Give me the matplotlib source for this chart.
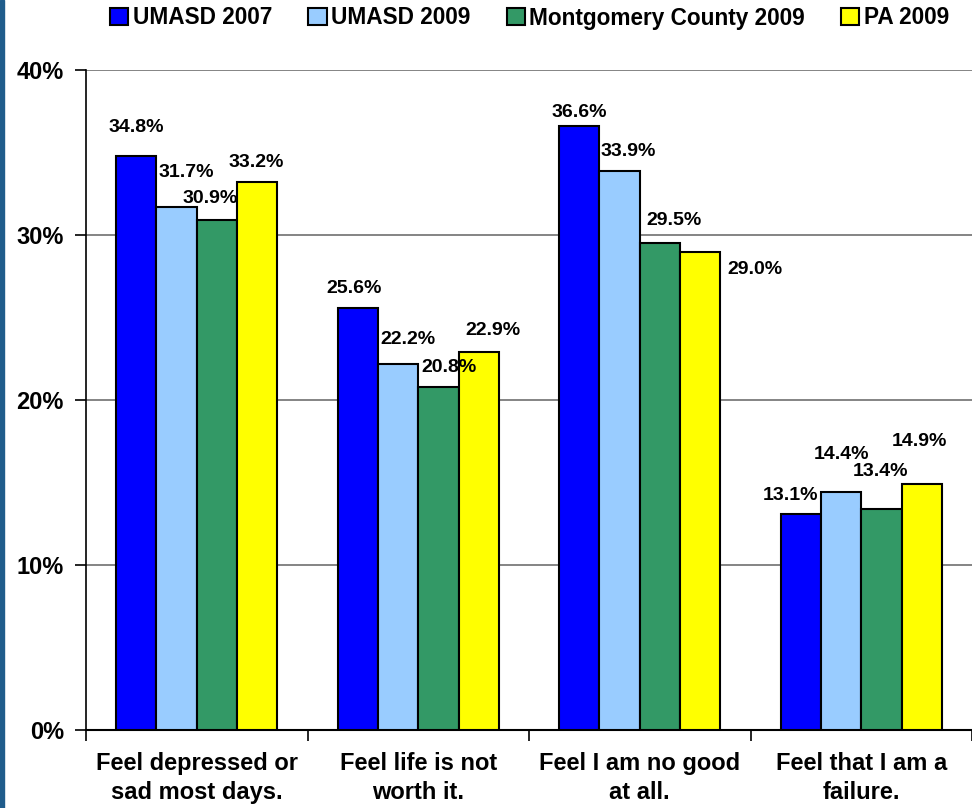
import matplotlib
matplotlib.use("Agg")
import matplotlib.pyplot as plt
from matplotlib.patches import Rectangle
import numpy as np

plt.rcParams['font.family'] = ['Liberation Sans', 'DejaVu Sans']
plt.rcParams['font.weight'] = 'bold'

categories = ['Feel depressed or\nsad most days.', 'Feel life is not\nworth it.',
              'Feel I am no good\nat all.', 'Feel that I am a\nfailure.']
series_names = ['UMASD 2007', 'UMASD 2009', 'Montgomery County 2009', 'PA 2009']
umasd_2007 = [34.8, 25.6, 36.6, 13.1]
umasd_2009 = [31.7, 22.2, 33.9, 14.4]
montco_2009 = [30.9, 20.8, 29.5, 13.4]
pa_2009 = [33.2, 22.9, 29.0, 14.9]
series = [umasd_2007, umasd_2009, montco_2009, pa_2009]
colors = ['#0000FF', '#99CCFF', '#339966', '#FFFF00']

# label nudges (pixels) so they sit like the original
label_offsets = [
    [(0, 28), (10, 34), (-7, 22), (-1, 20)],
    [(-4, 19), (10, 24), (11, 19), (14, 22)],
    [(0, 14), (9, 19), (14, 23), (55, -18)],
    [(-10, 18), (0, 38), (-1, 37), (-2, 43)],
]

fig = plt.figure(figsize=(9.72, 8.08), dpi=100)
ax = fig.add_axes([86 / 972, 78 / 808, 1 - 86 / 972, 660 / 808])

w = 0.182
x = np.arange(len(categories)) + 0.5
for j, vals in enumerate(series):
    bars = ax.bar(x + (j - 1.5) * w, vals, width=w, color=colors[j],
                  edgecolor='black', linewidth=1.5, label=series_names[j], zorder=3)
    for i, b in enumerate(bars):
        dx, dy = label_offsets[i][j]
        ax.annotate(f'{vals[i]:.1f}%', (b.get_x() + b.get_width() / 2, b.get_height()),
                    xytext=(dx, dy), textcoords='offset pixels', ha='center', va='center',
                    fontsize=14, fontweight='bold', zorder=4)

ax.set_xlim(0, 4)
ax.set_ylim(0, 40)
ax.set_yticks([0, 10, 20, 30, 40])
ax.set_yticklabels(['0%', '10%', '20%', '30%', '40%'], fontsize=17, fontweight='bold')
ax.yaxis.grid(True, color='#707070', linewidth=1.2, zorder=0)
ax.set_xticks([0, 1, 2, 3, 4])
ax.set_xticklabels([])
ax.set_xticks(x, minor=True)
ax.set_xticklabels(categories, minor=True, fontsize=17, fontweight='bold', linespacing=1.3)
ax.tick_params(axis='x', which='major', length=8, width=1.2, direction='out')
ax.tick_params(axis='x', which='minor', length=0, pad=16)
ax.tick_params(axis='y', length=8, width=1.2, direction='out', pad=8)
for s in ['top', 'right']:
    ax.spines[s].set_visible(False)
ax.spines['left'].set_linewidth(1.2)
ax.spines['bottom'].set_linewidth(1.5)

fig.legend(loc='center', bbox_to_anchor=(0.545, 1 - 18 / 808), ncol=4, frameon=False,
           handlelength=0.8, handleheight=0.8, handletextpad=0.2,
           columnspacing=1.6, prop={'weight': 'bold', 'size': 16.3})

# dark blue strip on the left edge
fig.patches.append(Rectangle((0, 0), 4 / 972, 1, transform=fig.transFigure,
                             color='#1F5C8B', zorder=5))

fig.savefig('out.png', dpi=100)
